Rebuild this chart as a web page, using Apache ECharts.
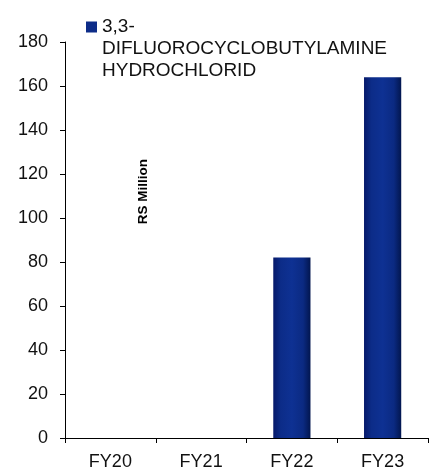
<!DOCTYPE html>
<html>
<head>
<meta charset="utf-8">
<script src="https://cdn.jsdelivr.net/npm/echarts@6/dist/echarts.min.js"></script>
<style>
html,body{margin:0;padding:0;background:#fff;}
#chart{width:438px;height:473px;}
</style>
</head>
<body>
<div id="chart"></div>
<script>
const categories = ['FY20', 'FY21', 'FY22', 'FY23'];
const seriesName = '3,3-DIFLUOROCYCLOBUTYLAMINE HYDROCHLORID';
const legendLines = ['3,3-', 'DIFLUOROCYCLOBUTYLAMINE', 'HYDROCHLORID'];
const values = [0, 0, 82, 164];
const yAxisName = 'RS Million';

const chart = echarts.init(document.getElementById('chart'), null, {renderer: 'canvas'});
const barGradient = new echarts.graphic.LinearGradient(0, 0, 1, 0, [
  {offset: 0, color: '#06196a'},
  {offset: 0.2, color: '#0c2c88'},
  {offset: 0.5, color: '#0e3193'},
  {offset: 0.8, color: '#0b2a82'},
  {offset: 1, color: '#02164f'}
]);
const font = 'Arial, "Liberation Sans", sans-serif';
// legend marker: square at the first text line, invisible anchors stretch the icon box to 3 lines
const legendIcon = 'path://M0,5.5L11,5.5L11,16.5L0,16.5Z M0,0L0,0 M11,66L11,66';
chart.setOption({
  animation: false,
  backgroundColor: '#ffffff',
  grid: {left: 65, right: 10, top: 42, bottom: 35, containLabel: false},
  legend: {
    left: 86,
    top: 16,
    padding: 0,
    itemWidth: 11,
    itemHeight: 66,
    itemGap: 0,
    icon: legendIcon,
    data: [{name: seriesName, icon: legendIcon, itemStyle: {color: '#0d2c88', borderWidth: 0}}],
    formatter: function () { return legendLines.join('\n'); },
    textStyle: {
      fontFamily: font,
      fontSize: 19,
      color: '#111',
      lineHeight: 22
    }
  },
  graphic: [{
    type: 'text',
    left: 136,
    top: 159,
    rotation: Math.PI / 2,
    style: {
      text: yAxisName,
      fontFamily: font,
      fontSize: 13.5,
      fontWeight: 'bold',
      fill: '#000'
    }
  }],
  xAxis: {
    type: 'category',
    data: categories,
    boundaryGap: true,
    axisLine: {lineStyle: {color: '#000', width: 1}},
    axisTick: {show: true, alignWithLabel: false, length: 5, lineStyle: {color: '#000'}},
    axisLabel: {color: '#111', fontFamily: font, fontSize: 18, margin: 15}
  },
  yAxis: {
    type: 'value',
    min: 0,
    max: 180,
    interval: 20,
    axisLine: {show: true, lineStyle: {color: '#000', width: 1}},
    axisTick: {show: true, length: 5, lineStyle: {color: '#000'}},
    axisLabel: {color: '#111', fontFamily: font, fontSize: 18, margin: 17},
    splitLine: {show: false}
  },
  series: [{
    name: seriesName,
    type: 'bar',
    data: values,
    barWidth: '41%',
    itemStyle: {color: barGradient}
  }]
});
</script>
</body>
</html>
